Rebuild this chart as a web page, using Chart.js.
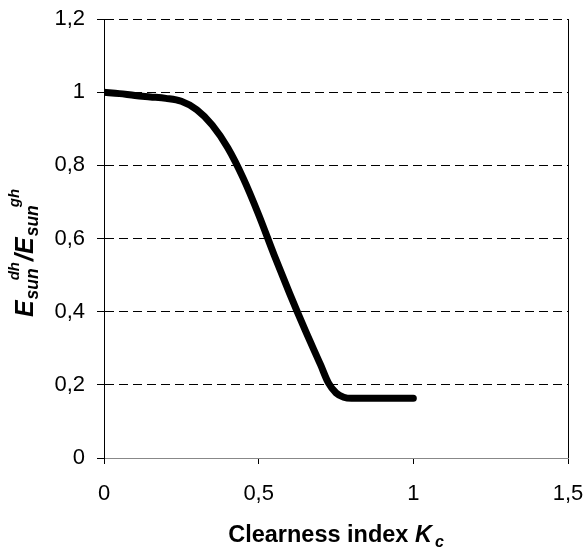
<!DOCTYPE html>
<html><head><meta charset="utf-8">
<script src="https://cdn.jsdelivr.net/npm/chart.js@4.4.0/dist/chart.umd.min.js"></script>
<style>html,body{margin:0;padding:0;background:#fff;}#wrap{width:584px;height:548px;}</style>
</head><body><div id="wrap"><canvas id="c" width="584" height="548"></canvas></div>
<script>
// Clearness index Kc (x) and ratio E_sun^dh / E_sun^gh (y)
const kc    = [0, 0.05, 0.1, 0.15, 0.2, 0.25, 0.3, 0.35, 0.4, 0.45, 0.5, 0.55, 0.6, 0.65, 0.7, 0.725, 0.75, 0.775, 0.8, 0.85, 0.9, 0.95, 1.0];
const ratio = [1.0, 0.996, 0.991, 0.987, 0.983, 0.975, 0.952, 0.91, 0.848, 0.765, 0.665, 0.555, 0.45, 0.35, 0.255, 0.206, 0.178, 0.166, 0.163, 0.163, 0.163, 0.163, 0.163];
const xTicks = [0, 0.5, 1, 1.5];
const yTicks = [0, 0.2, 0.4, 0.6, 0.8, 1, 1.2];
const xTitleMain = 'Clearness index ';
const xTitleVar = 'K';
const xTitleSub = 'c';

const FONT = '"Liberation Sans", Arial, Helvetica, sans-serif';
const fmt = v => String(Math.round(v * 10) / 10).replace('.', ',');

const titlePlugin = {
  id: 'titles',
  afterDraw(chart) {
    const c = chart.ctx;
    const a = chart.chartArea;
    c.save();
    c.fillStyle = '#000';
    c.textBaseline = 'alphabetic';
    c.textAlign = 'left';
    // X title
    const fMain = 'bold 23.5px ' + FONT, fVar = 'italic bold 23.5px ' + FONT, fSub = 'italic bold 16px ' + FONT;
    c.font = fMain; const w1 = c.measureText(xTitleMain).width;
    c.font = fVar; const w2 = c.measureText(xTitleVar).width;
    c.font = fSub; const w3 = c.measureText(xTitleSub).width;
    const W = w1 + w2 + 3 + w3;
    const x0 = (a.left + a.right) / 2 - W / 2;
    const by = 542;
    c.font = fMain; c.fillText(xTitleMain, x0, by);
    c.font = fVar; c.fillText(xTitleVar, x0 + w1, by);
    c.font = fSub; c.fillText(xTitleSub, x0 + w1 + w2 + 3, by + 5);
    // Y title (rotated)
    c.translate(33, 253);
    c.rotate(-Math.PI / 2);
    const fE = 'italic bold 25px ' + FONT, fS = 'italic bold 17.5px ' + FONT, fP = 'italic bold 15px ' + FONT;
    const parts = [];
    c.font = fE; const wE = c.measureText('E').width; const wSl = c.measureText('/').width;
    c.font = fS; const wS = c.measureText('sun').width;
    c.font = fP; const wdh = c.measureText('dh').width; const wgh = c.measureText('gh').width;
    let u = 0;
    parts.push(['E', fE, u, 0]); u += wE + 1;
    parts.push(['sun', fS, u, 5]); u += wS;
    parts.push(['dh', fP, u - 12, -14]); u = u - 12 + wdh + 1;
    parts.push(['/', fE, u, 0]); u += wSl;
    parts.push(['E', fE, u, 0]); u += wE + 1;
    parts.push(['sun', fS, u, 5]); u += wS;
    parts.push(['gh', fP, u - 2, -14]); u = u - 2 + wgh;
    const start = -u / 2;
    parts.forEach(p => { c.font = p[1]; c.fillText(p[0], start + p[2], p[3]); });
    c.restore();
  }
};

new Chart(document.getElementById('c').getContext('2d'), {
  type: 'line',
  data: {
    datasets: [{
      data: kc.map((x, i) => ({ x: x, y: ratio[i] })),
      borderColor: '#000',
      borderWidth: 7,
      pointRadius: 0,
      cubicInterpolationMode: 'monotone',
      borderCapStyle: 'round',
      borderJoinStyle: 'round',
      fill: false
    }]
  },
  options: {
    responsive: false,
    animation: false,
    devicePixelRatio: 1,
    layout: { padding: { top: 19, right: 16, left: 0, bottom: 0 } },
    plugins: { legend: { display: false }, tooltip: { enabled: false }, title: { display: false } },
    scales: {
      x: {
        type: 'linear', min: 0, max: 1.5,
        afterBuildTicks: s => { s.ticks = xTicks.map(v => ({ value: v })); },
        afterFit: s => { s.height = 90; },
        ticks: { font: { family: FONT, size: 22, lineHeight: 2.68 }, color: '#000', padding: 0, callback: v => fmt(v), maxRotation: 0 },
        grid: {
          color: ctx => (ctx.tick && ctx.tick.value === 1.5) ? '#000' : 'rgba(0,0,0,0)',
          tickColor: '#000', tickLength: 6, lineWidth: 1, drawTicks: true
        },
        border: { display: true, color: '#888', width: 1 }
      },
      y: {
        type: 'linear', min: 0, max: 1.2,
        afterBuildTicks: s => { s.ticks = yTicks.map(v => ({ value: v })); },
        afterFit: s => { s.width = 104; },
        ticks: { font: { family: FONT, size: 22, lineHeight: 0.5 }, color: '#000', padding: 12, callback: v => fmt(v) },
        grid: { color: '#000', tickColor: '#000', tickLength: 7, lineWidth: 1 },
        border: { display: true, color: '#000', width: 1, dash: [9, 5] }
      }
    }
  },
  plugins: [titlePlugin]
});
</script></body></html>
